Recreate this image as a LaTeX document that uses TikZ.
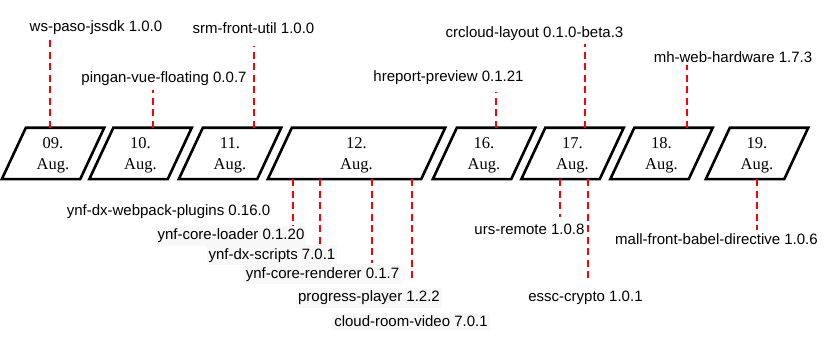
\documentclass[tikz,border=0pt]{standalone}
\usepackage{fontspec}
\setmainfont{Liberation Serif}
\newfontfamily\lblfont{Liberation Sans}
\definecolor{lblbgc}{HTML}{F8F8F8}
\definecolor{depred}{HTML}{FF0000}
\newcommand{\daytxt}[1]{\rule{0pt}{14.35pt}#1.\\Aug.}
\begin{document}
\begin{tikzpicture}[x=1pt,y=-1pt,
  daybox/.style={minimum width=102pt, minimum height=51pt, inner sep=0pt, align=center,
    font=\fontsize{16.5}{21.7}\selectfont},
  boxline/.style={draw=black, line width=2.6pt, line join=miter},
  dep/.style={draw=depred, line width=2.4pt, dash pattern=on 7pt off 4.5pt},
  lbl/.style={font=\lblfont\fontsize{15}{18}\selectfont, anchor=base, inner sep=0pt},
  lblbg/.style={lbl, fill=lblbgc, inner xsep=2pt, inner ysep=3pt}]
\useasboundingbox (0,0) rectangle (830,339);

% day boxes
\node[daybox] (d09) at (53,153.5) {\daytxt{09}};
\node[daybox] (d10) at (140.5,153.5) {\daytxt{10}};
\node[daybox] (d11) at (230,153.5) {\daytxt{11}};
\node[daybox, minimum width=177pt] (d12) at (356.5,153.5) {\daytxt{12}};
\node[daybox] (d16) at (484,153.5) {\daytxt{16}};
\node[daybox] (d17) at (572.5,153.5) {\daytxt{17}};
\node[daybox] (d18) at (661.5,153.5) {\daytxt{18}};
\node[daybox] (d19) at (757,153.5) {\daytxt{19}};
\foreach \n in {d09,d10,d11,d12,d16,d17,d18,d19}
  \draw[boxline] (\n.south west) -- ([xshift=-24pt]\n.south east) -- (\n.north east)
    -- ([xshift=24pt]\n.north west) -- cycle;

% connector free ends
\coordinate (e1) at (50,38);
\coordinate (e2) at (153,90);
\coordinate (e3) at (254,46);
\coordinate (e4) at (495.7,92);
\coordinate (e5) at (585,44);
\coordinate (e6) at (687,65);
\coordinate (f1) at (293,233);
\coordinate (f2) at (320,245);
\coordinate (f3) at (371.7,263);
\coordinate (f4) at (411.7,280);
\coordinate (f5) at (560,216.7);
\coordinate (f6) at (587.7,278);
\coordinate (f7) at (756.7,230);

% connectors
\draw[dep] ([xshift=-3pt]d09.north) -- (e1);
\draw[dep] ([xshift=12.5pt]d10.north) -- (e2);
\draw[dep] ([xshift=24pt]d11.north) -- (e3);
\draw[dep] ([xshift=11.7pt]d16.north) -- (e4);
\draw[dep] ([xshift=12.5pt]d17.north) -- (e5);
\draw[dep] ([xshift=25.5pt]d18.north) -- (e6);
\draw[dep] ([xshift=-63.5pt]d12.south) -- (f1);
\draw[dep] ([xshift=-36.5pt]d12.south) -- (f2);
\draw[dep] ([xshift=15.2pt]d12.south) -- (f3);
\draw[dep] ([xshift=55.2pt]d12.south) -- (f4);
\draw[dep] ([xshift=-12.5pt]d17.south) -- (f5);
\draw[dep] ([xshift=15.2pt]d17.south) -- (f6);
\draw[dep] ([xshift=-0.3pt]d19.south) -- (f7);

% labels
\node[lbl] (l1) at (96,32) {ws-paso-jssdk 1.0.0};
\node[lbl] (l2) at (164,82.7) {pingan-vue-floating 0.0.7};
\node[lbl] (l3) at (253.5,33.3) {srm-front-util 1.0.0};
\node[lbl] (l4) at (448.5,81.7) {hreport-preview 0.1.21};
\node[lbl] (l5) at (534.5,37.3) {crcloud-layout 0.1.0-beta.3};
\node[lbl] (l6) at (733,62.3) {mh-web-hardware 1.7.3};
\node[lbl] (b1) at (168.5,215.7) {ynf-dx-webpack-plugins 0.16.0};
\node[lblbg] (b2) at (231,240) {ynf-core-loader 0.1.20};
\node[lblbg] (b3) at (272,259.3) {ynf-dx-scripts 7.0.1\ };
\node[lblbg] (b4) at (322.5,278.3) {ynf-core-renderer 0.1.7};
\node[lblbg] (b5) at (369,301.7) {progress-player 1.2.2};
\node[lblbg] (b6) at (411,326.7) {cloud-room-video 7.0.1};
\node[lbl] (b7) at (529.5,235) {urs-remote 1.0.8};
\node[lbl] (b8) at (585.5,301) {essc-crypto 1.0.1};
\node[lbl] (b9) at (716.5,244) {mall-front-babel-directive 1.0.6};
\end{tikzpicture}
\end{document}
